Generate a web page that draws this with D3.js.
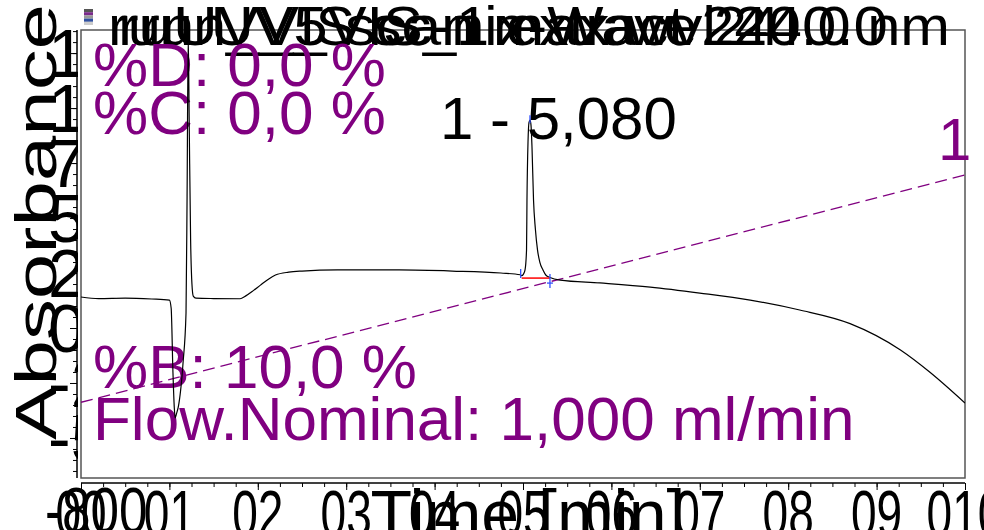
<!DOCTYPE html>
<html><head><meta charset="utf-8">
<script src="https://cdn.jsdelivr.net/npm/d3@7"></script>
<style>
body{margin:0;background:#fff;}
svg{display:block;font-family:Arial,"Liberation Sans",sans-serif;}
</style>
</head><body>
<svg id="c" width="984" height="530"></svg>
<script>
// ---------------- data ----------------
const times = [0,0.2,0.5,0.8,1.0,1.02,1.04,1.055,1.065,1.08,1.10,1.154,1.188,1.20,1.213,1.225,1.24,1.255,1.27,1.30,1.5,1.8,1.86,1.95,2.03,2.12,2.2,2.35,2.5,2.9,3.6,4.2,4.75,4.97,4.985,5.005,5.023,5.04,5.045,5.057,5.068,5.079,5.09,5.102,5.119,5.14,5.164,5.19,5.226,5.26,5.305,5.42,5.87,6.44,7.0,7.57,8.13,8.7,9.27,9.6,10.0];
const absorbance = [141,134,136,132,127,90,-200,-360,-409,-390,-360,-160,68,600,1330,900,400,200,145,136,134,133,145,170,195,222,241,254,259,264,264,259,250,242,238,245,264,355,582,850,935,945,925,820,582,450,355,300,264,240,230,218,205,186,159,127,82,20,-100,-200,-341];
const gradTimes = [0, 10];
const gradPctB = [10, 40];
const peakStart = 4.985, peakEnd = 5.305, peakApex = 5.079, peakBaseValue = 227;
const yMajorTicks = [1250,1000,750,500,250,0,-250,-500];
const yTickLabels = ["1250","1000","750","500","250","0","-250","-500"];
const yMinLabel = "-800";
const xMajorTicks = [0,1,2,3,4,5,6,7,8,9,10];
const xTickLabels = ["00","01","02","03","04","05","06","07","08","09","010"];
const titleLines = ["run UV_VIS_1 extract 240.0 nm","ruUV_5 scan max wvl 240.0","run_VIS sc-nix-Wave 24"];
const yTitle = "Absorbance";
const xTitle = "Time [min]";
const methodTopTexts = ["%D: 0,0 %","%C: 0,0 %"];
const methodBottomTexts = ["%B: 10,0 %","Flow.Nominal: 1,000 ml/min"];
const peakLabel = "1 - 5,080";
const gradEndLabel = "1";

// ---------------- layout ----------------
const L = 81, R = 965, T = 30, B = 478;
const svg = d3.select("#c");
const x = d3.scaleLinear().domain([0,10]).range([L,R]);
const y = d3.scaleLinear().domain([-682,1355]).range([B,T]);
const yB = d3.scaleLinear().domain([0,40]).range([B,175]);
const purple = "#800080";

svg.append("defs").html(
  `<clipPath id="plot"><rect x="${L}" y="${T}" width="${R-L}" height="${B-T}"/></clipPath>
   <clipPath id="ylab"><rect x="0" y="0" width="78" height="530"/></clipPath>`);

// icon
const icon = svg.append("g");
["#555","#7a2a8a","#999","#3050a0","#ccc"].forEach((c,i)=>icon.append("rect").attr("x",84).attr("y",9+i*3.2).attr("width",9).attr("height",3.2).attr("fill",c));

// frame
svg.append("rect").attr("x",L).attr("y",T).attr("width",R-L).attr("height",B-T)
  .attr("fill","none").attr("stroke","#555").attr("stroke-width",1.5);

// y axis (minor + major)
const yMinor = d3.range(-650,1351,50);
const gyMinor = svg.append("g").attr("transform","translate(77,0)")
  .call(d3.axisLeft(y).tickValues(yMinor).tickSize(4).tickFormat(""));
const gyMajor = svg.append("g").attr("transform","translate(77,0)")
  .call(d3.axisLeft(y).tickValues(yMajorTicks).tickSize(7).tickFormat(""));
[gyMinor,gyMajor].forEach(g=>{g.select(".domain").attr("d",`M0,${T}V${B}`).attr("stroke","#000");g.selectAll("line").attr("stroke","#000");});

// x axis
const xMinor = d3.range(0,10.001,0.25);
const gxMinor = svg.append("g").attr("transform","translate(0,483)")
  .call(d3.axisBottom(x).tickValues(xMinor).tickSize(4).tickFormat(""));
const gxMajor = svg.append("g").attr("transform","translate(0,483)")
  .call(d3.axisBottom(x).tickValues(xMajorTicks).tickSize(7).tickFormat(""));
[gxMinor,gxMajor].forEach(g=>{g.select(".domain").attr("d",`M${L},0H${R}`).attr("stroke","#000");g.selectAll("line").attr("stroke","#000");});

// y tick labels (clipped)
const yl = svg.append("g").attr("clip-path","url(#ylab)");
yMajorTicks.forEach((v,i)=>{
  yl.append("text").attr("x",48).attr("y",y(v)+24).attr("font-size",68).attr("fill","#000").text(yTickLabels[i]);
});
svg.append("text").attr("transform","translate(45,533) scale(0.8,1)").attr("font-size",64).text(yMinLabel);

// x tick labels
xMajorTicks.forEach((v,i)=>{
  svg.append("text").attr("transform",`translate(${x(v)},536) scale(0.72,1)`)
    .attr("text-anchor","middle").attr("font-size",64).text(xTickLabels[i]);
});
// axis titles
svg.append("text").attr("x",528).attr("y",538).attr("text-anchor","middle").attr("font-size",68).text(xTitle);
svg.append("text").attr("transform","translate(56,440) rotate(-90)").attr("font-size",58)
  .attr("textLength",436).attr("lengthAdjust","spacingAndGlyphs").text(yTitle);

// title (overlapping)
const tpos = [[108,842],[118,770],[140,640]];
titleLines.forEach((s,i)=>{
  svg.append("text").attr("x",tpos[i][0]).attr("y",45).attr("font-size",56)
    .attr("textLength",tpos[i][1]).attr("lengthAdjust","spacingAndGlyphs").text(s);
});

// method texts
methodTopTexts.forEach((s,i)=>svg.append("text").attr("x",93).attr("y",86+i*48).attr("font-size",62).attr("fill",purple).text(s));
methodBottomTexts.forEach((s,i)=>svg.append("text").attr("x",93).attr("y",388+i*52).attr("font-size",62).attr("fill",purple).text(s));
svg.append("text").attr("x",938).attr("y",160).attr("font-size",60).attr("fill",purple).text(gradEndLabel);
svg.append("text").attr("x",440).attr("y",139).attr("font-size",60).attr("fill","#000").text(peakLabel);

// plot content
const pg = svg.append("g").attr("clip-path","url(#plot)");
// gradient
pg.append("path").datum(gradTimes.map((t,i)=>[t,gradPctB[i]]))
  .attr("d",d3.line().x(d=>x(d[0])).y(d=>yB(d[1])))
  .attr("fill","none").attr("stroke",purple).attr("stroke-width",1.3).attr("stroke-dasharray","12,6");
// trace
pg.append("path").datum(times.map((t,i)=>[t,absorbance[i]]))
  .attr("d",d3.line().x(d=>x(d[0])).y(d=>y(d[1])).curve(d3.curveMonotoneX))
  .attr("fill","none").attr("stroke","#000").attr("stroke-width",1.2);
// peak baseline & markers
pg.append("line").attr("x1",x(peakStart)).attr("x2",x(peakEnd)).attr("y1",y(peakBaseValue)).attr("y2",y(peakBaseValue))
  .attr("stroke","#ff0000").attr("stroke-width",1.5);
pg.append("line").attr("x1",x(peakStart)-1).attr("x2",x(peakStart)-1).attr("y1",y(peakBaseValue)).attr("y2",y(peakBaseValue)-9).attr("stroke","#3050ff").attr("stroke-width",1.3);
pg.append("line").attr("x1",x(peakEnd)).attr("x2",x(peakEnd)).attr("y1",y(peakBaseValue)-4).attr("y2",y(peakBaseValue)+10).attr("stroke","#3050ff").attr("stroke-width",1.3);
pg.append("line").attr("x1",x(peakEnd)-3).attr("x2",x(peakEnd)+3).attr("y1",y(peakBaseValue)+5).attr("y2",y(peakBaseValue)+5).attr("stroke","#3050ff").attr("stroke-width",1.3);
pg.append("line").attr("x1",x(peakApex)).attr("x2",x(peakApex)).attr("y1",y(945)-5).attr("y2",y(945)+3).attr("stroke","#3050ff").attr("stroke-width",1.3);
</script>
</body></html>
